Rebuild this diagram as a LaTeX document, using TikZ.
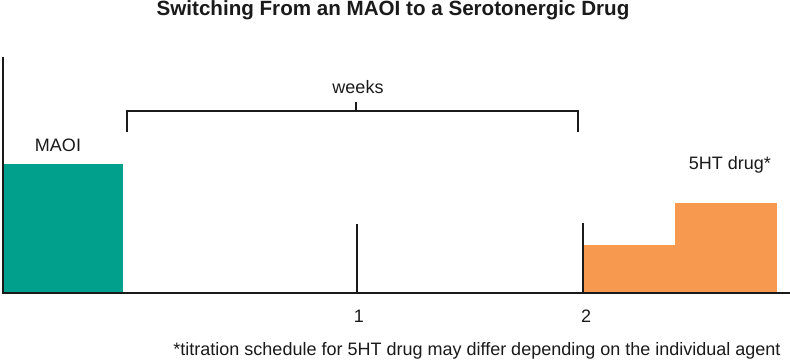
\documentclass[tikz,border=0pt]{standalone}
\usepackage{fontspec}
\setmainfont{Liberation Sans}
\definecolor{maoiteal}{HTML}{00A08C}
\definecolor{drugorange}{HTML}{F7994E}
\definecolor{ink}{HTML}{1A1A1A}
\begin{document}
\begin{tikzpicture}[x=1pt,y=-1pt,
  axisline/.style={line width=1.8pt, ink, line cap=rect},
  tickline/.style={line width=1.8pt, ink},
  bar/.style={draw=none, inner sep=0pt, outer sep=0pt, anchor=south west},
  lbl/.style={inner sep=0pt, anchor=base, text=ink, font=\fontsize{18}{21}\selectfont},
  ttl/.style={inner sep=0pt, anchor=base, text=ink, font=\fontsize{20.6}{24}\selectfont\bfseries}]
\useasboundingbox (0,0) rectangle (790,361);
% bars
\node[bar, fill=maoiteal, minimum width=120pt, minimum height=129pt] (maoibar) at (3,293) {};
\node[bar, fill=drugorange, minimum width=92pt, minimum height=48pt] (drugA) at (584,293) {};
\node[bar, fill=drugorange, minimum width=102pt, minimum height=90pt] (drugB) at (675,293) {};
% axes
\coordinate (org) at (3,293);
\coordinate (ytop) at (3,58);
\coordinate (xend) at (790,293);
\draw[axisline] (ytop) -- (org) -- (xend);
% ticks
\coordinate (t1b) at (357,293);
\coordinate (t1t) at (357,224);
\coordinate (t2b) at (583,293);
\coordinate (t2t) at (583,223);
\draw[tickline] (t1b) -- (t1t);
\draw[tickline] (t2b) -- (t2t);
% bracket
\coordinate (bl) at (127,132);
\coordinate (blt) at (127,111);
\coordinate (br) at (578,132);
\coordinate (brt) at (578,111);
\coordinate (bm) at (356,111);
\coordinate (bmt) at (356,102);
\draw[tickline, line join=miter] (bl) -- (blt) -- (brt) -- (br);
\draw[tickline] (bm) -- (bmt);
% labels
\node[ttl] (title) at (393,16) {Switching From an MAOI to a Serotonergic Drug};
\node[lbl] (weeks) at (358,93) {weeks};
\node[lbl] (maoi) at (58,151) {MAOI};
\node[lbl] (drug) at (730,169) {5HT drug*};
\node[lbl] (one) at (359,322) {1};
\node[lbl] (two) at (586,322) {2};
\node[lbl] (note) at (477,355) {*titration schedule for 5HT drug may differ depending on the individual agent};
\end{tikzpicture}
\end{document}
